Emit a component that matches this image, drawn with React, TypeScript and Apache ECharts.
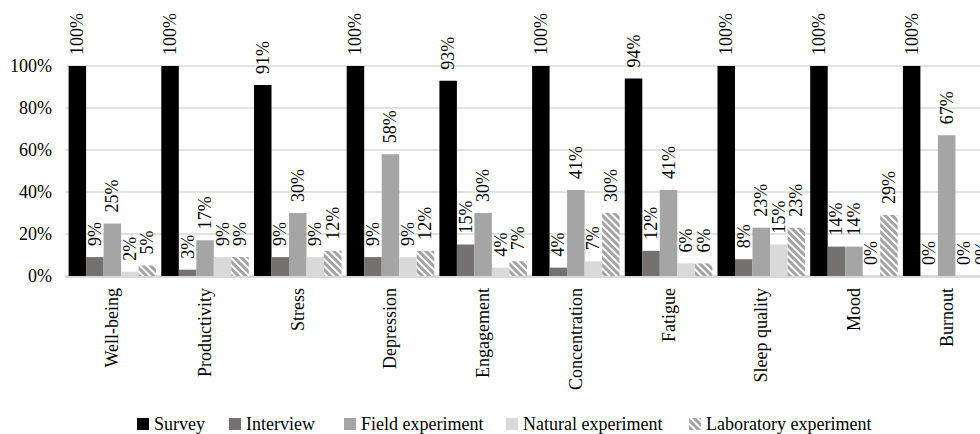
import React, { useEffect, useRef } from "react";
import * as echarts from "echarts";

const categories = [
  "Well-being",
  "Productivity",
  "Stress",
  "Depression",
  "Engagement",
  "Concentration",
  "Fatigue",
  "Sleep quality",
  "Mood",
  "Burnout",
];

const seriesNames = [
  "Survey",
  "Interview",
  "Field experiment",
  "Natural experiment",
  "Laboratory experiment",
];

const survey = [100, 100, 91, 100, 93, 100, 94, 100, 100, 100];
const interview = [9, 3, 9, 9, 15, 4, 12, 8, 14, 0];
const fieldExperiment = [25, 17, 30, 58, 30, 41, 41, 23, 14, 67];
const naturalExperiment = [2, 9, 9, 9, 4, 7, 6, 15, 0, 0];
const laboratoryExperiment = [5, 9, 12, 12, 7, 30, 6, 23, 29, 0];

const yTicks = [0, 20, 40, 60, 80, 100];

const FONT = "'Liberation Serif', 'Times New Roman', serif";

export default function App() {
  const ref = useRef<HTMLDivElement | null>(null);

  useEffect(() => {
    if (!ref.current) return;
    const chart = echarts.init(ref.current, undefined, { renderer: "svg" });

    const values = [survey, interview, fieldExperiment, naturalExperiment, laboratoryExperiment];
    const colors = ["#000000", "#767171", "#a5a5a5", "#d9d9d9", "#ffffff"];
    const legendLeft = [132, 224, 339, 501, 684];

    const series = seriesNames.map((name, i) => {
      const itemStyle: any = { color: colors[i] };
      if (i === 4) {
        itemStyle.decal = {
          symbol: "rect",
          color: "#a3a3a3",
          dashArrayX: [1, 0],
          dashArrayY: [3, 2],
          rotation: Math.PI / 4,
        };
      }
      return {
        name,
        type: "bar",
        data: values[i],
        barWidth: 17.5,
        barGap: "0%",
        itemStyle,
        label: {
          show: true,
          position: "top",
          rotate: 90,
          align: "left",
          verticalAlign: "middle",
          distance: 11,
          formatter: "{c}%",
          fontFamily: FONT,
          fontSize: 18,
          color: "#000",
        },
      };
    });

    chart.setOption({
      animation: false,
      textStyle: { fontFamily: FONT },
      // the plot runs past the right edge of the visible frame
      grid: { left: 66, top: 66, height: 210, width: 927, containLabel: false },
      legend: seriesNames.map((name, i) => ({
        data: [name],
        left: legendLeft[i],
        top: 410,
        itemWidth: 12,
        itemHeight: 12,
        itemGap: 0,
        icon: "rect",
        textStyle: { fontFamily: FONT, fontSize: 18, color: "#000" },
        selectedMode: false,
      })),
      xAxis: {
        type: "category",
        data: categories,
        axisLine: { show: true, lineStyle: { color: "#d9d9d9", width: 3 } },
        axisTick: { show: false },
        axisLabel: {
          rotate: 90,
          margin: 12,
          fontFamily: FONT,
          fontSize: 18,
          color: "#000",
          interval: 0,
        },
      },
      yAxis: {
        type: "value",
        min: yTicks[0],
        max: yTicks[yTicks.length - 1],
        interval: 20,
        axisLine: { show: false },
        axisTick: { show: false },
        splitLine: { lineStyle: { color: "#d9d9d9", width: 1.5 } },
        axisLabel: {
          formatter: "{value}%",
          margin: 14,
          fontFamily: FONT,
          fontSize: 18,
          color: "#000",
        },
      },
      series,
    });

    return () => chart.dispose();
  }, []);

  return (
    <div
      style={{
        position: "fixed",
        left: 0,
        top: 0,
        width: 980,
        height: 434,
        overflow: "hidden",
        background: "#fff",
      }}
    >
      <div ref={ref} style={{ width: 1010, height: 434 }} />
    </div>
  );
}
